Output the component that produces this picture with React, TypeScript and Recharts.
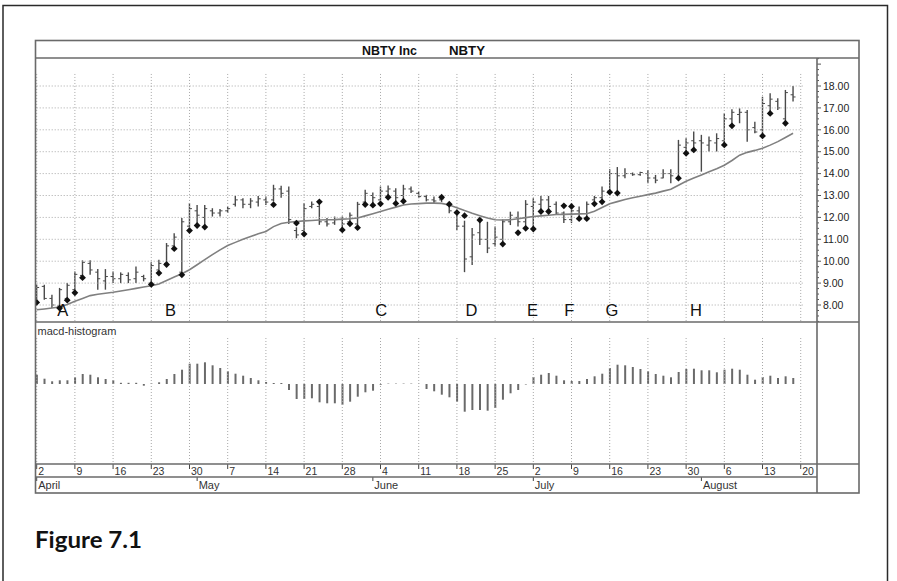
import React from 'react';
import { ComposedChart, Bar, Line, Scatter, XAxis, YAxis, ReferenceLine } from 'recharts';

// ---- Data (trading-day index i = 0 .. 99, starting Mon 2 April) ----
const highs = [
  8.93, 8.93, 8.47, 8.78, 9.00, 9.53, 10.04, 10.04, 9.64, 9.64,
  9.53, 9.49, 9.49, 9.76, 9.38, 9.95, 10.07, 10.83, 11.28, 11.97,
  12.65, 12.57, 12.57, 12.42, 12.38, 12.50, 12.98, 12.88, 12.88, 12.98,
  12.95, 13.49, 13.45, 13.41, 11.55, 12.65, 12.73, 12.71, 11.97, 12.04,
  12.04, 12.22, 12.71, 13.26, 13.14, 13.41, 13.46, 13.33, 13.49, 13.41,
  13.18, 13.03, 12.95, 12.98, 12.65, 12.35, 11.85, 11.52, 11.88, 11.80,
  11.58, 11.90, 12.26, 12.27, 12.79, 12.88, 12.98, 12.98, 12.73, 12.27,
  12.65, 12.50, 12.73, 12.98, 13.41, 14.20, 14.30, 14.25, 14.05, 14.09,
  14.17, 13.94, 14.20, 14.20, 15.54, 15.61, 15.92, 15.77, 15.69, 15.84,
  16.75, 16.94, 16.98, 16.91, 16.37, 17.51, 17.67, 17.44, 17.82, 18.00,
];
const lows = [
  8.15, 8.24, 7.86, 7.91, 8.24, 8.62, 9.31, 9.38, 8.70, 8.70,
  9.00, 9.00, 9.00, 9.00, 9.08, 8.94, 9.46, 9.84, 10.60, 9.38,
  11.43, 11.66, 11.59, 12.04, 12.04, 12.20, 12.50, 12.42, 12.42, 12.50,
  12.57, 12.73, 12.90, 11.70, 11.05, 11.28, 12.42, 11.66, 11.59, 11.66,
  11.51, 11.74, 11.59, 12.59, 12.65, 12.65, 12.95, 12.70, 12.80, 13.11,
  12.88, 12.73, 12.65, 12.70, 12.19, 11.43, 9.50, 9.83, 10.74, 10.37,
  10.67, 10.82, 11.65, 11.59, 11.58, 11.47, 12.27, 12.27, 12.12, 11.74,
  11.74, 11.89, 11.92, 12.73, 12.80, 13.18, 13.11, 13.79, 13.90, 13.90,
  13.56, 13.56, 13.79, 13.56, 13.71, 14.93, 15.08, 14.09, 15.01, 15.01,
  15.39, 16.18, 16.30, 15.46, 15.84, 15.72, 16.75, 16.91, 16.30, 17.29,
];
const opens = [
  8.20, 8.85, 8.30, 7.95, 8.30, 8.70, 9.35, 9.90, 9.50, 9.10,
  9.30, 9.20, 9.35, 9.20, 9.30, 9.00, 9.60, 9.90, 10.70, 9.50,
  11.60, 12.30, 12.00, 12.30, 12.20, 12.30, 12.60, 12.80, 12.60, 12.70,
  12.80, 12.80, 13.30, 13.20, 11.40, 11.40, 12.50, 12.50, 11.80, 11.75,
  11.90, 11.80, 11.70, 12.70, 13.00, 12.80, 13.20, 13.20, 13.00, 13.30,
  13.10, 12.95, 12.80, 12.80, 12.55, 12.20, 11.60, 10.20, 11.30, 11.00,
  10.80, 11.00, 11.80, 12.00, 11.80, 12.50, 12.60, 12.80, 12.60, 12.20,
  11.90, 12.30, 12.00, 12.80, 12.90, 13.20, 14.00, 13.90, 14.00, 13.95,
  14.00, 13.80, 13.80, 14.00, 13.80, 15.20, 15.50, 15.50, 15.30, 15.40,
  15.50, 16.50, 16.70, 16.80, 16.10, 16.00, 17.10, 17.30, 16.50, 17.60,
];
const closes = [
  8.80, 8.30, 8.00, 8.70, 8.90, 9.40, 9.95, 9.60, 9.20, 9.30,
  9.20, 9.40, 9.15, 9.50, 9.20, 9.80, 9.90, 10.70, 11.10, 11.80,
  12.40, 12.10, 12.40, 12.20, 12.30, 12.40, 12.80, 12.60, 12.75, 12.85,
  12.70, 13.30, 13.10, 11.90, 11.20, 12.40, 12.60, 11.80, 11.70, 11.90,
  11.70, 12.10, 12.60, 13.10, 12.90, 13.20, 13.30, 12.90, 13.30, 13.20,
  12.95, 12.80, 12.75, 12.85, 12.30, 11.60, 10.10, 11.20, 11.00, 10.60,
  11.10, 11.80, 12.10, 11.80, 12.60, 12.70, 12.80, 12.50, 12.20, 11.90,
  12.30, 12.00, 12.60, 12.90, 13.20, 14.00, 13.90, 14.00, 13.95, 14.05,
  13.80, 13.70, 14.00, 13.90, 15.30, 15.40, 15.40, 15.40, 15.50, 15.60,
  16.50, 16.80, 16.80, 16.00, 15.90, 17.20, 17.40, 17.00, 17.70, 17.50,
];
const movingAvg = [
  7.78, 7.82, 7.86, 7.91, 8.02, 8.17, 8.30, 8.43, 8.49, 8.54,
  8.58, 8.64, 8.70, 8.76, 8.82, 8.88, 8.96, 9.12, 9.28, 9.43,
  9.61, 9.84, 10.07, 10.30, 10.52, 10.72, 10.86, 11.00, 11.13, 11.25,
  11.36, 11.58, 11.72, 11.78, 11.81, 11.84, 11.86, 11.88, 11.89, 11.90,
  11.92, 11.94, 11.97, 12.07, 12.17, 12.27, 12.37, 12.47, 12.57, 12.61,
  12.63, 12.65, 12.65, 12.64, 12.57, 12.44, 12.31, 12.19, 12.08, 11.97,
  11.89, 11.88, 11.89, 11.94, 11.99, 12.04, 12.07, 12.10, 12.13, 12.14,
  12.15, 12.16, 12.17, 12.28, 12.45, 12.62, 12.72, 12.82, 12.90, 12.97,
  13.04, 13.11, 13.20, 13.29, 13.47, 13.65, 13.80, 13.94, 14.08, 14.22,
  14.38, 14.60, 14.84, 14.97, 15.06, 15.16, 15.30, 15.46, 15.65, 15.84,
];
const markerDays = [
  0, 3, 4, 5, 6, 15, 16, 17, 18, 19, 20, 21, 22, 31, 34, 35, 37, 40, 41, 42,
  43, 44, 45, 46, 47, 48, 53, 54, 55, 56, 58, 61, 63, 64, 65, 66, 67, 69, 70, 71,
  72, 73, 74, 75, 76, 84, 85, 86, 90, 91, 95, 96, 98,
];
const markerValues = [
  8.12, 7.86, 8.22, 8.56, 9.25, 8.94, 9.46, 9.85, 10.57, 9.38, 11.40, 11.63, 11.56, 12.58, 11.74, 11.24, 12.71, 11.43, 11.71, 11.53,
  12.59, 12.56, 12.62, 12.92, 12.64, 12.74, 12.92, 12.60, 12.22, 12.08, 11.88, 10.78, 11.30, 11.50, 11.47, 12.27, 12.27, 12.53, 12.50, 11.94,
  11.94, 12.62, 12.71, 13.15, 13.11, 13.79, 14.93, 15.08, 15.31, 16.18, 15.72, 16.75, 16.30,
];
const macdHist = [
  0.093, 0.053, 0.027, 0.037, 0.037, 0.067, 0.100, 0.093, 0.067, 0.050,
  0.037, 0.012, 0.012, 0.012, -0.017, 0.005, 0.017, 0.050, 0.100, 0.143,
  0.203, 0.203, 0.217, 0.187, 0.160, 0.127, 0.103, 0.083, 0.060, 0.037,
  0.020, 0.010, 0.010, -0.060, -0.150, -0.150, -0.143, -0.183, -0.193, -0.193,
  -0.207, -0.177, -0.127, -0.083, -0.067, -0.008, 0.004, 0.004, 0.004, 0.004,
  0.002, -0.050, -0.073, -0.107, -0.133, -0.177, -0.277, -0.260, -0.260, -0.267,
  -0.240, -0.157, -0.093, -0.060, -0.005, 0.070, 0.093, 0.110, 0.083, 0.037,
  0.030, 0.030, 0.050, 0.077, 0.103, 0.160, 0.193, 0.187, 0.170, 0.150,
  0.127, 0.100, 0.083, 0.067, 0.120, 0.150, 0.153, 0.137, 0.137, 0.117,
  0.143, 0.153, 0.143, 0.093, 0.043, 0.070, 0.083, 0.060, 0.077, 0.060,
];
const weekTicks = [0, 5, 10, 15, 20, 25, 30, 35, 40, 45, 50, 55, 60, 65, 70, 75, 80, 85, 90, 95, 100];
const weekLabels = ['2', '9', '16', '23', '30', '7', '14', '21', '28', '4', '11', '18', '25', '2', '9', '16', '23', '30', '6', '13', '20'];
const monthTicks = [0, 21, 44, 65, 87];
const monthLabels = ['April', 'May', 'June', 'July', 'August'];
const priceLabels = [8, 9, 10, 11, 12, 13, 14, 15, 16, 17, 18];
const letterNames = ['A', 'B', 'C', 'D', 'E', 'F', 'G', 'H'];
const letterDays = [3.4, 17.5, 45.1, 56.9, 64.9, 69.7, 75.3, 86.3];
const letterLevel = 7.48;

// ---- derived tables ----
const priceData = highs.map((h, i) => ({
  i, high: h, low: lows[i], open: opens[i], close: closes[i], range: [lows[i], h], ma: movingAvg[i],
}));
const markerData = markerDays.map((d, k) => ({ i: d, v: markerValues[k] }));
const letterData = letterDays.map((d, k) => ({ i: d, y: letterLevel, t: letterNames[k] }));
const histData = macdHist.map((h, i) => ({ i, h }));

const X_DOMAIN: [number, number] = [-0.09, 102.13];
const P_DOMAIN: [number, number] = [7.224, 19.279];
const H_DOMAIN: [number, number] = [-0.8, 0.62];
const yTicks: number[] = [];
for (let k = 29; k <= 77; k++) yTicks.push(k / 4);

const SANS = "'Liberation Sans', Arial, Helvetica, sans-serif";
const GRID = '#a8a8a8';
const FRAME = '#6a6a6a';

const OhlcShape = (props: any) => {
  const { x, y, width, height, payload } = props;
  if (x == null || y == null || !payload) return null;
  const cx = x + width / 2;
  const top = Math.min(y, y + height);
  const bot = Math.max(y, y + height);
  const span = payload.high - payload.low || 1;
  const py = (v: number) => top + ((payload.high - v) / span) * (bot - top);
  return (
    <g>
      <line x1={cx} x2={cx} y1={top} y2={bot} stroke="#4a4a4a" strokeWidth={1.4} />
      <line x1={cx - 2.5} x2={cx} y1={py(payload.open)} y2={py(payload.open)} stroke="#4a4a4a" strokeWidth={1} />
      <line x1={cx} x2={cx + 2.5} y1={py(payload.close)} y2={py(payload.close)} stroke="#4a4a4a" strokeWidth={1} />
    </g>
  );
};

const Diamond = (props: any) => {
  const { cx, cy } = props;
  if (cx == null || cy == null) return null;
  const r = 3.4;
  return <polygon points={`${cx},${cy - r} ${cx + r},${cy} ${cx},${cy + r} ${cx - r},${cy}`} fill="#111" />;
};

const LetterShape = (props: any) => {
  const { cx, cy, payload } = props;
  if (cx == null || cy == null) return null;
  return (
    <text x={cx} y={cy} textAnchor="middle" fontSize={16.5} fontFamily={SANS} fill="#111">{payload.t}</text>
  );
};

const PriceTick = (props: any) => {
  const { x, y, payload } = props;
  const v = payload.value;
  const major = Math.abs(v - Math.round(v)) < 1e-6;
  const labelled = major && priceLabels.indexOf(Math.round(v)) >= 0;
  return (
    <g>
      <line x1={x} x2={x + (major ? 4 : 2)} y1={y} y2={y} stroke="#555" strokeWidth={1} />
      {labelled && (
        <text x={x + 6} y={y} dy="0.36em" fontSize={10.5} fontFamily={SANS} fill="#222">{v.toFixed(2)}</text>
      )}
    </g>
  );
};

const DayTick = (props: any) => {
  const { x, y, payload } = props;
  const k = weekTicks.indexOf(payload.value);
  return (
    <g>
      <line x1={x} x2={x} y1={y} y2={y + 5} stroke="#444" strokeWidth={1} />
      <text x={x + 1.5} y={y + 11} fontSize={10.5} fontFamily={SANS} fill="#333">{weekLabels[k]}</text>
    </g>
  );
};

const MonthTick = (props: any) => {
  const { x, y, payload } = props;
  const k = monthTicks.indexOf(payload.value);
  return (
    <g>
      <line x1={x} x2={x} y1={y} y2={y + 4} stroke="#444" strokeWidth={1} />
      <text x={x + 1.5} y={y + 12} fontSize={11} fontFamily={SANS} fill="#333">{monthLabels[k]}</text>
    </g>
  );
};

export default function App() {
  return (
    <div style={{ position: 'absolute', left: 0, top: 0, width: 897, height: 581, background: '#fff', overflow: 'hidden' }}>
      {/* price panel */}
      <div style={{ position: 'absolute', left: 36, top: 58 }}>
        <ComposedChart width={823} height={264} data={priceData} margin={{ top: 0, right: 0, bottom: 0, left: 0 }}>
          <XAxis type="number" dataKey="i" domain={X_DOMAIN} hide allowDataOverflow />
          <YAxis
            type="number" orientation="right" width={42} domain={P_DOMAIN} allowDataOverflow
            ticks={yTicks} interval={0} tickSize={0} tickMargin={0} tickLine={false} axisLine={false}
            tick={<PriceTick />}
          />
          {priceLabels.map((v) => (
            <ReferenceLine key={'h' + v} segment={[{ x: 0, y: v }, { x: 100.3, y: v }]} stroke={GRID} strokeDasharray="1 2" ifOverflow="visible" />
          ))}
          {weekTicks.map((d) => (
            <ReferenceLine key={'v' + d} segment={[{ x: d, y: 18.55 }, { x: d, y: P_DOMAIN[0] }]} stroke={GRID} strokeDasharray="1 2" ifOverflow="visible" />
          ))}
          <Line type="linear" dataKey="ma" stroke="#808080" strokeWidth={1.6} dot={false} activeDot={false} isAnimationActive={false} />
          <Bar dataKey="range" barSize={5} shape={OhlcShape} isAnimationActive={false} />
          <Scatter data={markerData} dataKey="v" shape={Diamond} isAnimationActive={false} />
          <Scatter data={letterData} dataKey="y" shape={LetterShape} isAnimationActive={false} />
        </ComposedChart>
      </div>

      {/* histogram panel + date axes */}
      <div style={{ position: 'absolute', left: 36, top: 322 }}>
        <ComposedChart width={781} height={171} data={histData} margin={{ top: 0, right: 0, bottom: 0, left: 0 }}>
          <XAxis
            type="number" dataKey="i" domain={X_DOMAIN} allowDataOverflow ticks={weekTicks} interval={0}
            height={13} tickSize={0} tickMargin={0} tickLine={false} axisLine={false} tick={<DayTick />}
          />
          <XAxis
            xAxisId="m" type="number" dataKey="i" domain={X_DOMAIN} allowDataOverflow ticks={monthTicks} interval={0}
            height={16} tickSize={0} tickMargin={0} tickLine={false} axisLine={false} tick={<MonthTick />}
          />
          <YAxis type="number" hide domain={H_DOMAIN} allowDataOverflow />
          {weekTicks.map((d) => (
            <ReferenceLine key={'hv' + d} segment={[{ x: d, y: 0.46 }, { x: d, y: H_DOMAIN[0] }]} stroke={GRID} strokeDasharray="1 2" ifOverflow="visible" />
          ))}
          <Bar dataKey="h" barSize={2} fill="#6a6a6a" isAnimationActive={false} />
        </ComposedChart>
      </div>

      {/* frames and static text */}
      <svg width={897} height={581} style={{ position: 'absolute', left: 0, top: 0, pointerEvents: 'none' }}>
        <path d="M3,581 V5.5 H887.5 V581" fill="none" stroke="#2a2a2a" strokeWidth={1.5} />
        <rect x={35.5} y={40.5} width={823.5} height={452.5} fill="none" stroke={FRAME} strokeWidth={1.6} />
        <line x1={35.5} x2={859} y1={58} y2={58} stroke={FRAME} strokeWidth={1.6} />
        <line x1={35.5} x2={859} y1={322} y2={322} stroke={FRAME} strokeWidth={1.6} />
        <line x1={35.5} x2={859} y1={464} y2={464} stroke={FRAME} strokeWidth={1.6} />
        <line x1={35.5} x2={817} y1={477} y2={477} stroke={FRAME} strokeWidth={1.4} />
        <line x1={817} x2={817} y1={58} y2={493} stroke={FRAME} strokeWidth={1.6} />
        <text x={362} y={54.5} fontSize={13} fontWeight="bold" fontFamily={SANS} fill="#111" textLength={55} lengthAdjust="spacingAndGlyphs">NBTY Inc</text>
        <text x={449} y={54.5} fontSize={13} fontWeight="bold" fontFamily={SANS} fill="#111" textLength={36} lengthAdjust="spacingAndGlyphs">NBTY</text>
        <text x={37.5} y={335} fontSize={11} fontFamily={SANS} fill="#333">macd-histogram</text>
        <text x={35} y={548} fontSize={22} fontWeight="bold" fontFamily="Lato, 'Open Sans', sans-serif" fill="#111" textLength={107} lengthAdjust="spacingAndGlyphs">Figure 7.1</text>
      </svg>
    </div>
  );
}
